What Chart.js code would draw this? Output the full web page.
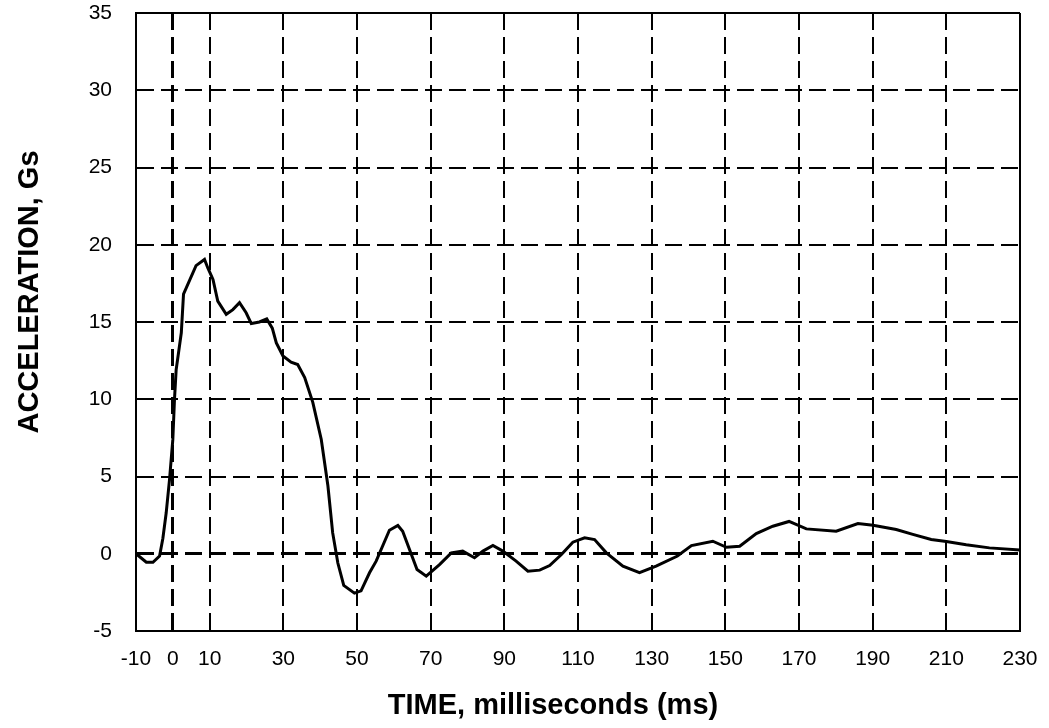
<!DOCTYPE html>
<html>
<head>
<meta charset="utf-8">
<title>Acceleration vs Time</title>
<script src="https://cdn.jsdelivr.net/npm/chart.js@4/dist/chart.umd.min.js"></script>
<style>
  html, body { margin: 0; padding: 0; background: #fff; }
  #accel_chart { display: block; }
</style>
</head>
<body>
<canvas id="accel_chart" width="1049" height="728"></canvas>
<script>
// sled pulse, time in ms
var timeMs = [-10, -7.2, -5.4, -3.6, -2.7, -1.8, -0.9, 0, 0.45, 0.9, 2.3, 2.9, 6.3, 8.6, 9.5,
    10.9, 12.2, 14.5, 16.3, 18.1, 19.9, 21.3, 23.5, 25.5, 27.0, 28.1, 29.9, 32.1, 33.9, 35.8,
    38.0, 40.3, 42.1, 43.4, 44.8, 46.4, 49.3, 51.1, 53.4, 55.2, 58.8, 61.1, 62.4, 66.3, 68.8,
    72.4, 75.6, 78.7, 81.9, 84.2, 86.9, 89.6, 93.2, 96.4, 99.6, 102.3, 105.5, 108.6, 111.8,
    114.5, 117.7, 122.2, 126.7, 131.2, 137.0, 140.8, 146.6, 150.3, 153.9, 158.4, 162.9, 167.3,
    172.0, 180.1, 186.0, 190.1, 196.4, 200.9, 205.9, 210.0, 215.4, 221.7, 230];

// acceleration in Gs
var accelG = [0, -0.55, -0.55, -0.15, 1.0, 2.65, 4.8, 7.4, 10, 11.9, 14.3, 16.8, 18.65, 19.05, 18.5,
    17.75, 16.35, 15.5, 15.8, 16.25, 15.6, 14.9, 15.0, 15.2, 14.6, 13.65, 12.8, 12.4, 12.25, 11.4,
    9.8, 7.4, 4.4, 1.35, -0.6, -2.05, -2.55, -2.4, -1.23, -0.48, 1.52, 1.83, 1.46, -1.02, -1.45,
    -0.7, 0.06, 0.17, -0.26, 0.17, 0.53, 0.17, -0.48, -1.13, -1.06, -0.76, -0.05, 0.75, 1.03,
    0.92, 0.06, -0.8, -1.23, -0.8, -0.15, 0.53, 0.81, 0.42, 0.49, 1.31, 1.78, 2.09,
    1.61, 1.46, 1.96, 1.85, 1.57, 1.25, 0.92, 0.79, 0.58, 0.38, 0.25];

var xTicks = [-10, 0, 10, 30, 50, 70, 90, 110, 130, 150, 170, 190, 210, 230];
var yTicks = [-5, 0, 5, 10, 15, 20, 25, 30, 35];

var xTitle = 'TIME, milliseconds (ms)';
var yTitle = 'ACCELERATION, Gs';

var points = timeMs.map(function (t, i) { return { x: t, y: accelG[i] }; });

var fontFamily = "'Liberation Sans', Arial, sans-serif";
var tickFont = { family: fontFamily, size: 21 };

// frame edges are solid, zero lines heavier, the rest dashed
function gridWidth(ctx) {
    return ctx.tick && ctx.tick.value === 0 ? 3 : 2;
}
function gridDash(min, max) {
    return function (ctx) {
        if (!ctx.tick) return [];
        var v = ctx.tick.value;
        return (v === min || v === max) ? [] : [17, 7];
    };
}

// axis titles are not centred on the plot, so they are placed by hand
var axisTitles = {
    id: 'axisTitles',
    afterDraw: function (chart) {
        var ctx = chart.ctx;
        ctx.save();
        ctx.font = 'bold 29px ' + fontFamily;
        ctx.fillStyle = '#000';
        ctx.textAlign = 'center';
        ctx.textBaseline = 'alphabetic';
        ctx.fillText(xTitle, 553, 714);
        ctx.translate(38, 292);
        ctx.rotate(-Math.PI / 2);
        ctx.fillText(yTitle, 0, 0);
        ctx.restore();
    }
};

new Chart(document.getElementById("accel_chart").getContext("2d"), {
    type: 'line',
    data: {
        datasets: [{
            data: points,
            borderColor: '#000',
            borderWidth: 3,
            pointRadius: 0,
            tension: 0,
            fill: false
        }]
    },
    plugins: [axisTitles],
    options: {
        responsive: false,
        animation: false,
        layout: { padding: { left: 0, right: 29, top: 13, bottom: 0 } },
        plugins: { legend: { display: false }, tooltip: { enabled: false } },
        scales: {
            x: {
                type: 'linear',
                min: -10,
                max: 230,
                afterBuildTicks: function (scale) {
                    scale.ticks = xTicks.map(function (v) { return { value: v }; });
                },
                afterFit: function (scale) {
                    scale.height = 97;
                    scale.paddingLeft = 0;
                    scale.paddingRight = 0;
                },
                grid: { color: '#000', lineWidth: gridWidth, drawTicks: false },
                border: { display: true, color: '#000', width: 2, dash: gridDash(-10, 230) },
                ticks: { color: '#000', font: tickFont, padding: 16, maxRotation: 0, autoSkip: false }
            },
            y: {
                min: -5,
                max: 35,
                afterBuildTicks: function (scale) {
                    scale.ticks = yTicks.map(function (v) { return { value: v }; });
                },
                afterFit: function (scale) {
                    scale.width = 136;
                    scale.paddingTop = 0;
                    scale.paddingBottom = 0;
                },
                grid: { color: '#000', lineWidth: gridWidth, drawTicks: false },
                border: { display: true, color: '#000', width: 2, dash: gridDash(-5, 35) },
                ticks: { color: '#000', font: tickFont, padding: 24 }
            }
        }
    }
});
</script>
</body>
</html>
